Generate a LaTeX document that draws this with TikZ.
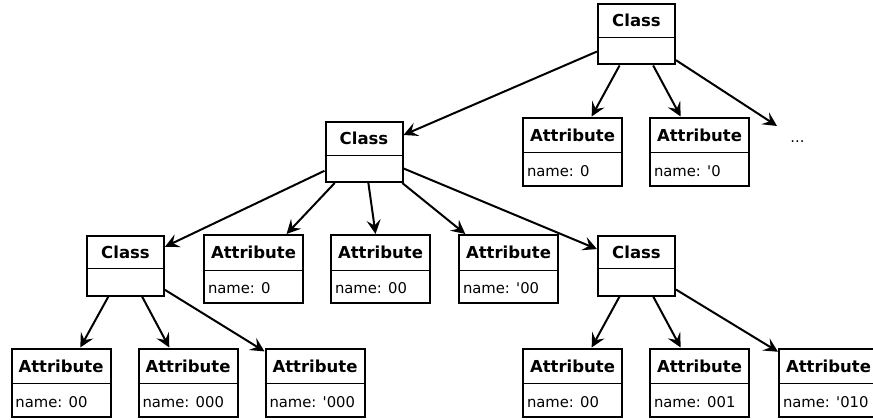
\documentclass[tikz,border=0pt]{standalone}
\usepackage{fontspec}
\setmainfont{DejaVu Sans}[Ligatures=TeXOff]
\usetikzlibrary{positioning,shapes.multipart,arrows.meta}

\newcommand{\ttl}[1]{{\fontsize{16.5}{19}\selectfont\textbf{#1}}}
\newcommand{\ctitle}{\rule[-9.5pt]{0pt}{31pt}\ttl{Class}}
\newcommand{\cbody}{\rule{0pt}{25pt}}
\newcommand{\atitle}{\rule[-10.5pt]{0pt}{33pt}\ttl{Attribute}}
\newcommand{\aname}[1]{\rule[-8.5pt]{0pt}{31pt}name: #1}

\begin{document}
\begin{tikzpicture}[x=1pt, y=-1pt,
  font=\fontsize{14.8}{18}\selectfont,
  box/.style = {draw, line width=2pt, rectangle split, rectangle split parts=2,
    rectangle split draw splits=false, inner ysep=0pt, inner xsep=4pt},
  cls/.style = {box, minimum width=77pt},
  attr/.style = {box, minimum width=99pt, rectangle split part align={center,left}},
  link/.style = {line width=2pt, -{Stealth[length=14pt,width=14pt,inset=5.5pt]}}]
  \useasboundingbox (0,0) rectangle (873,420);

  % classes
  \node[cls] (root) at (636.5,34.5) {\ctitle\nodepart{two}\cbody};
  \node[cls] (mid) at (364,152) {\ctitle\nodepart{two}\cbody};
  \node[cls] (cl) at (125.5,265.5) {\ctitle\nodepart{two}\cbody};
  \node[cls] (cr) at (636.5,265.5) {\ctitle\nodepart{two}\cbody};

  % attributes
  \node[attr, below=51pt of root, xshift=-64pt] (r1) {\atitle\nodepart{two}\aname{0}};
  \node[attr, right=26pt of r1] (r2) {\atitle\nodepart{two}\aname{'0}};
  \coordinate (more) at (777,126);
  \node (dots) at (797.5,142) {...};

  \node[attr, below=51pt of mid, xshift=-110.5pt] (m1) {\atitle\nodepart{two}\aname{0}};
  \node[attr, right=26pt of m1] (m2) {\atitle\nodepart{two}\aname{00}};
  \node[attr, right=27pt of m2] (m3) {\atitle\nodepart{two}\aname{'00}};

  \node[attr, below=51pt of cl, xshift=-64.5pt] (l1) {\atitle\nodepart{two}\aname{00}};
  \node[attr, right=26pt of l1] (l2) {\atitle\nodepart{two}\aname{000}};
  \node[attr, right=26pt of l2] (l3) {\atitle\nodepart{two}\aname{'000}};

  \node[attr, below=51pt of cr, xshift=-64pt] (q1) {\atitle\nodepart{two}\aname{00}};
  \node[attr, right=26pt of q1] (q2) {\atitle\nodepart{two}\aname{001}};
  \node[attr, right=28pt of q2] (q3) {\atitle\nodepart{two}\aname{'010}};

  \foreach \n in {root,mid,cl,cr,r1,r2,m1,m2,m3,l1,l2,l3,q1,q2,q3}
    \draw[line width=1pt] (\n.text split west) -- (\n.text split east);

  \foreach \a/\b in {root/mid, root/r1, root/r2, root/more, mid/cl, mid/m1, mid/m2,
      mid/m3, mid/cr, cl/l1, cl/l2, cl/l3, cr/q1, cr/q2, cr/q3}
    \draw[link] (\a) -- (\b);
\end{tikzpicture}
\end{document}
